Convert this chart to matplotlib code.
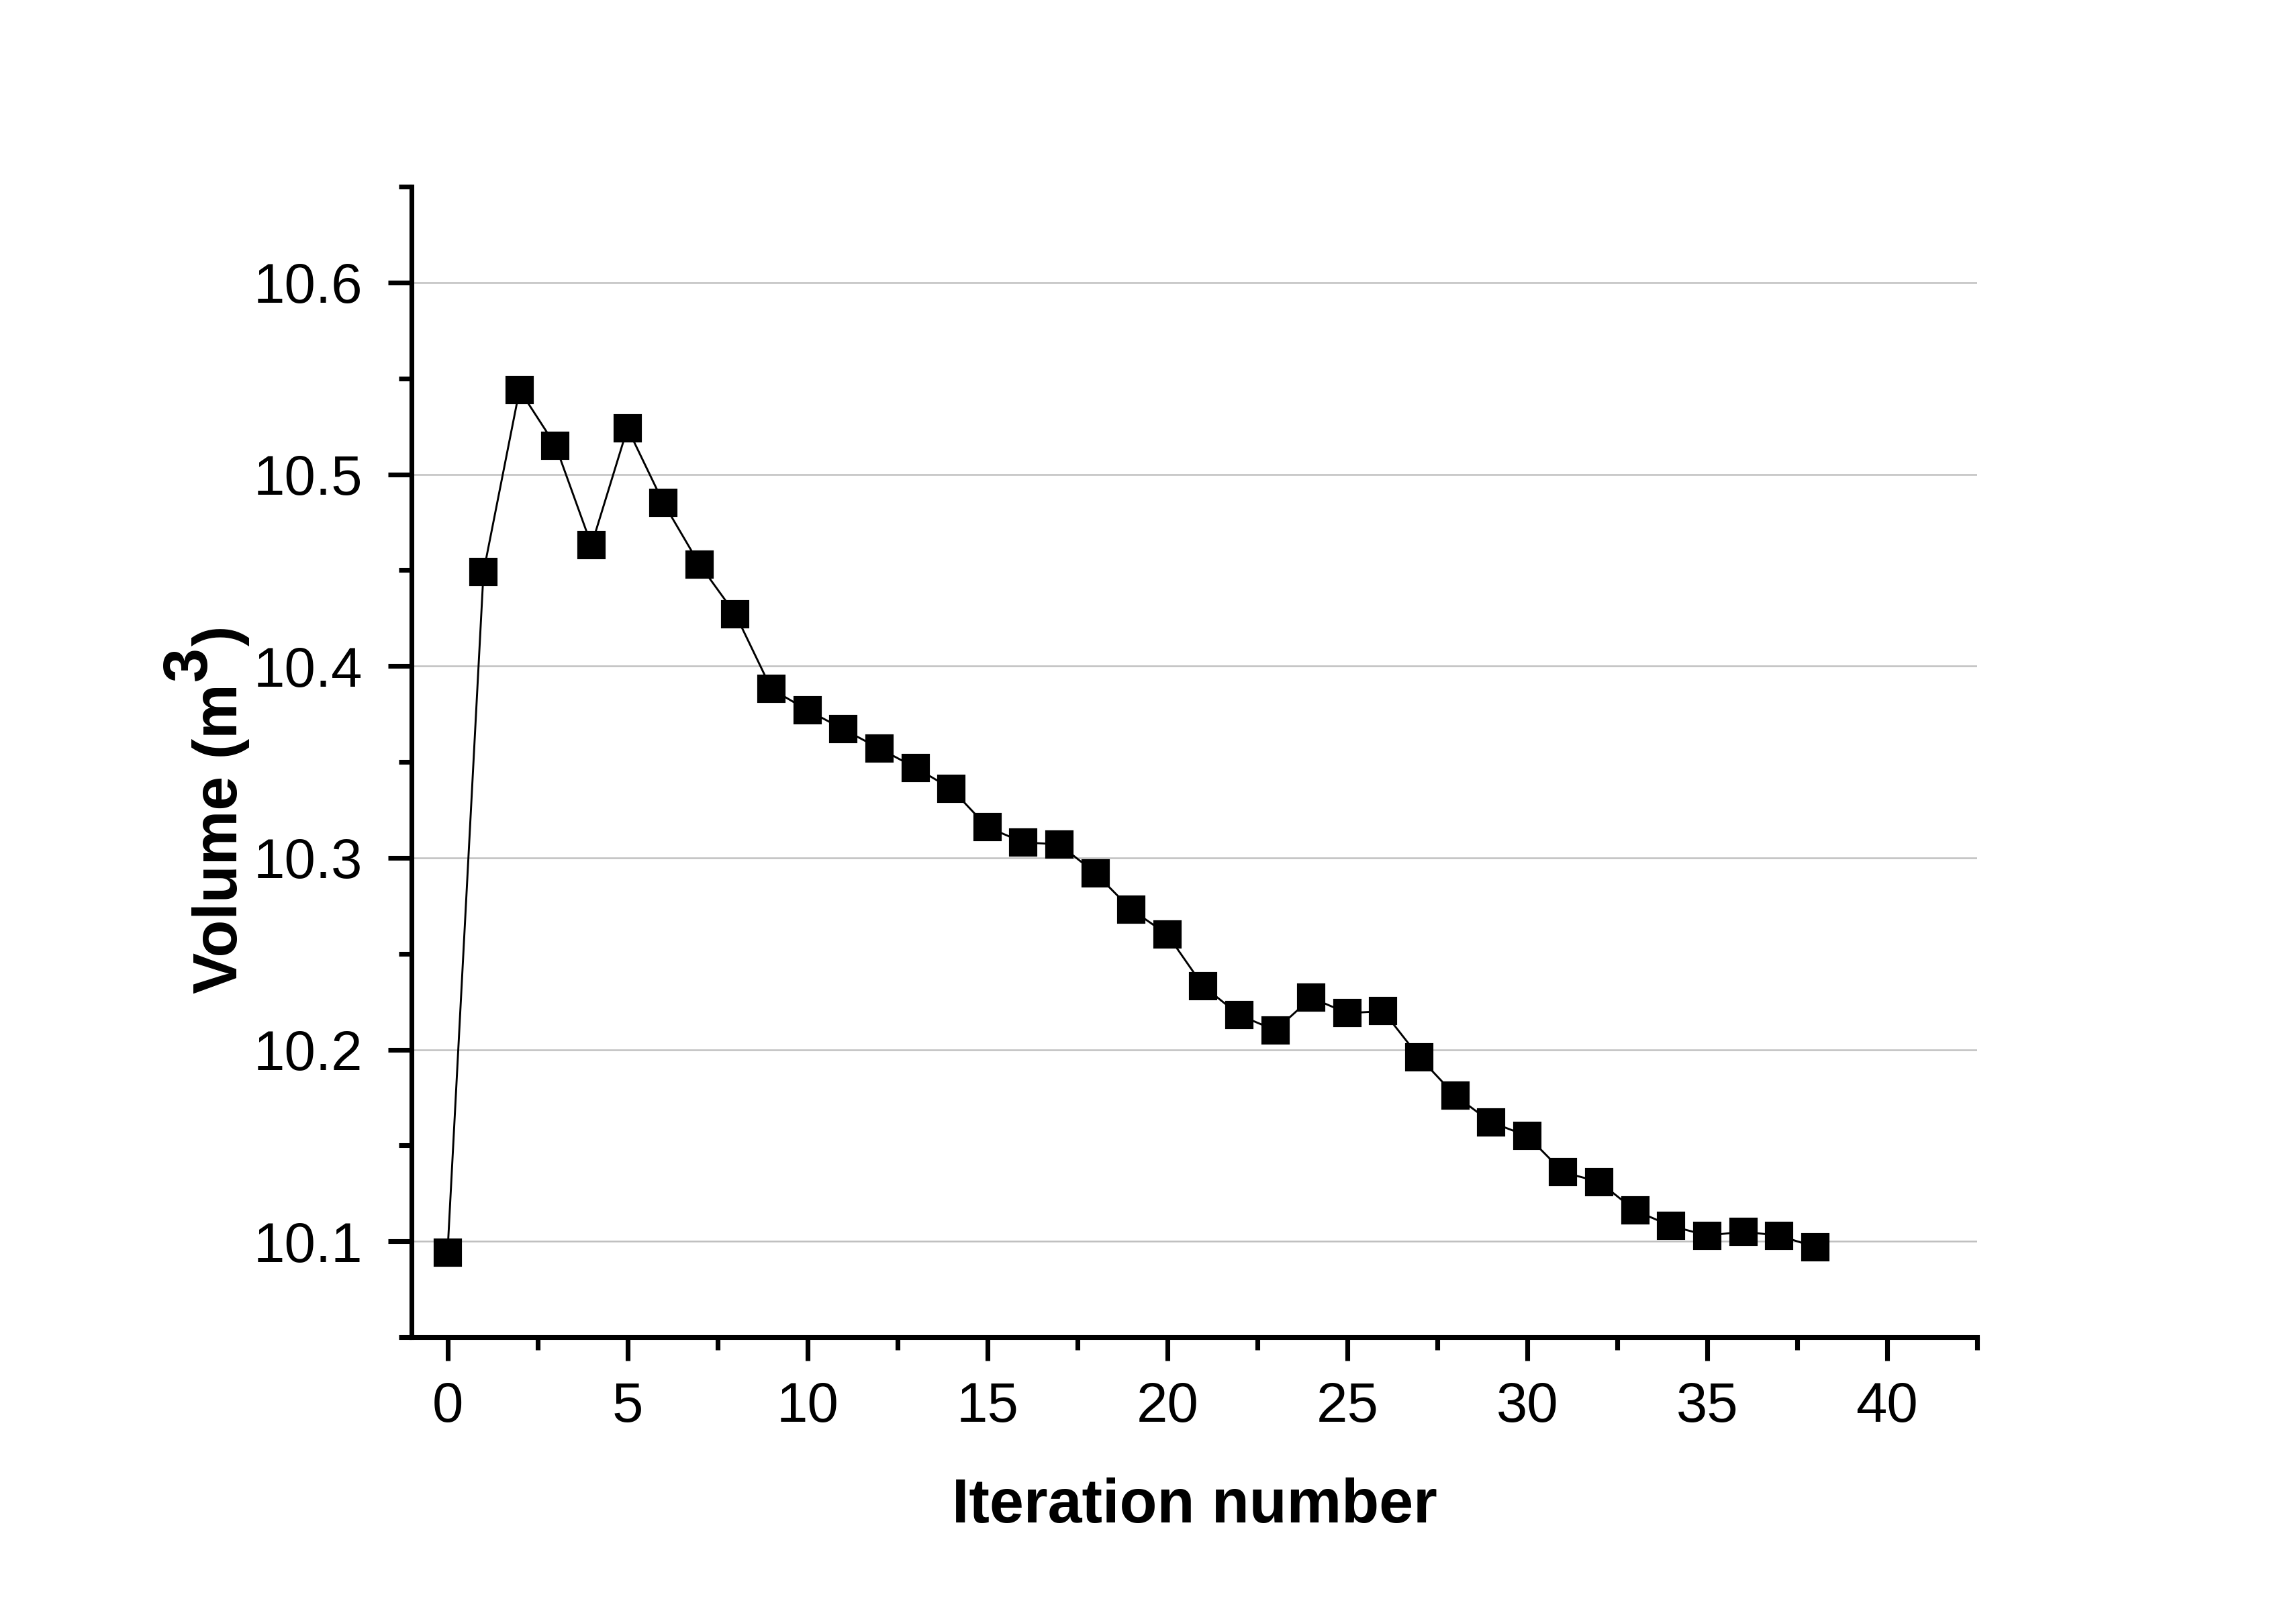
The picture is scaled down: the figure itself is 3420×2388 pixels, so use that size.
import numpy as np
import matplotlib
matplotlib.use('Agg')
import matplotlib.pyplot as plt
from matplotlib.ticker import MultipleLocator

# datos
iteracion = list(range(39))
volumen = [10.094, 10.449, 10.544, 10.515, 10.463, 10.524, 10.485, 10.453, 10.427, 10.388,
           10.377, 10.367, 10.357, 10.347, 10.336, 10.316, 10.308, 10.307, 10.292, 10.273,
           10.260, 10.233, 10.218, 10.210, 10.227, 10.219, 10.220, 10.196, 10.176, 10.162,
           10.155, 10.136, 10.131, 10.116, 10.108, 10.103, 10.105, 10.103, 10.097]

xticks = [0, 5, 10, 15, 20, 25, 30, 35, 40]
yticks = [10.1, 10.2, 10.3, 10.4, 10.5, 10.6]

plt.rcParams['font.family'] = ['Liberation Sans', 'DejaVu Sans']

W, H = 3420, 2388
fig = plt.figure(figsize=(W / 300, H / 300), dpi=300)
ax = fig.add_axes([613 / W, 1 - 1992 / H, (2945 - 613) / W, (1992 - 278) / H])

ax.plot(iteracion, volumen, color='black', lw=0.7, marker='s', ms=9, mfc='black', mec='black', zorder=3)

ax.set_xlim(-1, 42.5)
ax.set_ylim(10.05, 10.65)
ax.set_xticks(xticks)
ax.set_yticks(yticks)
ax.set_yticklabels([f'{v:.1f}' for v in yticks])
ax.xaxis.set_minor_locator(MultipleLocator(2.5))
ax.yaxis.set_minor_locator(MultipleLocator(0.05))

ax.grid(axis='y', which='major', color='#c0c0c0', lw=0.6)
ax.set_axisbelow(True)

for s in ['top', 'right']:
    ax.spines[s].set_visible(False)
for s in ['left', 'bottom']:
    ax.spines[s].set_linewidth(1.7)

ax.tick_params(which='major', direction='out', length=8.5, width=1.7, labelsize=20)
ax.tick_params(which='minor', direction='out', length=4.5, width=1.7)
ax.tick_params(axis='x', pad=7)
ax.tick_params(axis='y', pad=9)

# etiqueta x
fig.text(1779 / W, 1 - 2268 / H, 'Iteration number', ha='center', va='baseline',
         fontsize=22, fontweight='bold')

# etiqueta y con el 3 elevado a tamano completo
renderer = fig.canvas.get_renderer()
fuente = dict(fontsize=22, fontweight='bold', rotation=90, rotation_mode='anchor',
              ha='left', va='baseline')
xb = 353
t1 = fig.text(xb / W, 1 - 1480 / H, 'Volume (m', **fuente)
bb1 = t1.get_window_extent(renderer)
t2 = fig.text((xb - 46) / W, (bb1.y1 + 4) / H, '3', **fuente)
bb2 = t2.get_window_extent(renderer)
t3 = fig.text(xb / W, (bb2.y1 + 2) / H, ')', **fuente)

fig.savefig('out.png', dpi=300)
